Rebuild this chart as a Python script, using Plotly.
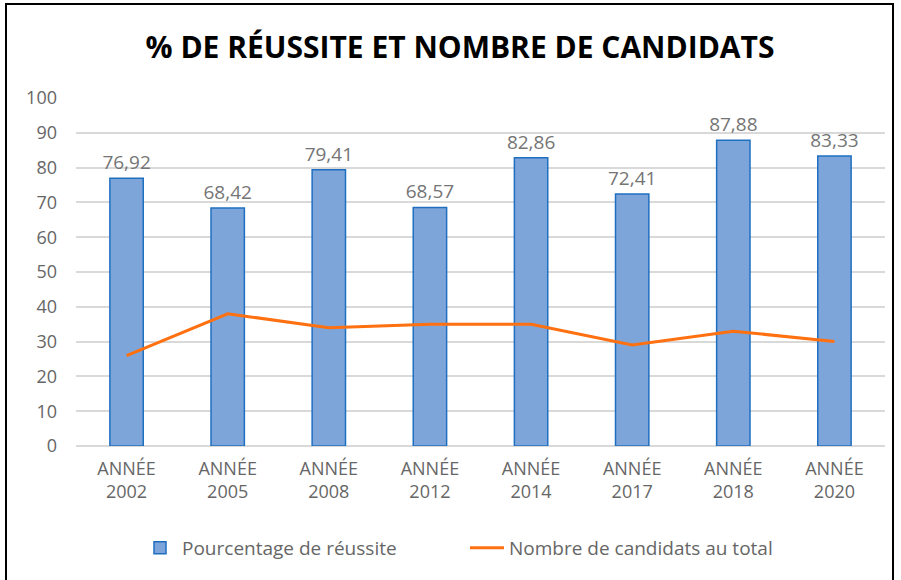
import plotly.graph_objects as go

categories = ["ANNÉE<br>2002", "ANNÉE<br>2005", "ANNÉE<br>2008", "ANNÉE<br>2012",
              "ANNÉE<br>2014", "ANNÉE<br>2017", "ANNÉE<br>2018", "ANNÉE<br>2020"]
pct_reussite = [76.92, 68.42, 79.41, 68.57, 82.86, 72.41, 87.88, 83.33]
nb_candidats = [26, 38, 34, 35, 35, 29, 33, 30]
labels = [f"{v:.2f}".replace(".", ",") for v in pct_reussite]

W, H = 901, 580
L, R, T, B = 76, 16, 98, 134
pw, ph = W - L - R, H - T - B

fig = go.Figure()
fig.add_trace(go.Bar(
    x=categories, y=pct_reussite, name="Pourcentage de réussite",
    width=0.33,
    marker=dict(color="#7ea5d9", line=dict(color="#1f6fc0", width=1.5)),
    text=labels, textposition="outside", cliponaxis=False, constraintext="none",
    textfont=dict(size=19, color="#757575", family="Open Sans"),
))
fig.add_trace(go.Scatter(
    x=categories, y=nb_candidats, name="Nombre de candidats au total",
    mode="lines", line=dict(color="#ff7010", width=3),
))

def px_x(x):
    return (x - L) / pw

def px_y(y):
    return (H - B - y) / ph

fig.add_shape(type="rect", xref="paper", yref="paper",
              x0=px_x(6), x1=px_x(893), y0=px_y(595), y1=px_y(4),
              line=dict(color="black", width=2), fillcolor="rgba(0,0,0,0)", layer="below")

fig.update_layout(
    width=W, height=H,
    margin=dict(l=L, r=R, t=T, b=B),
    paper_bgcolor="white", plot_bgcolor="white",
    font=dict(family="Open Sans", color="#666666"),
    title=dict(text="<b>% DE RÉUSSITE ET NOMBRE DE CANDIDATS</b>",
               x=px_x(460), xref="paper", xanchor="center", y=1 - 47 / H, yanchor="middle",
               font=dict(size=30, color="black", family="Open Sans")),
    bargap=0.67,
    showlegend=True,
    legend=dict(orientation="h", x=px_x(138), xanchor="left", y=px_y(548), yanchor="middle",
                font=dict(size=19, color="#666666"), traceorder="normal",
                entrywidth=278, entrywidthmode="pixels", itemwidth=34),
    xaxis=dict(showgrid=False, showline=False, zeroline=False,
               tickfont=dict(size=18, color="#666666"), ticks="outside", ticklen=6, tickcolor="white"),
    yaxis=dict(range=[0, 100], dtick=10, showgrid=True, gridcolor="#d9d9d9", gridwidth=1.5,
               zeroline=True, zerolinecolor="#d9d9d9", zerolinewidth=1.5, showline=False,
               tickfont=dict(size=18, color="#666666"), ticklabelstandoff=18),
)

fig.write_html("out.html", config={"displayModeBar": False},
               post_script="document.body.style.margin='0';document.body.style.padding='0';")
